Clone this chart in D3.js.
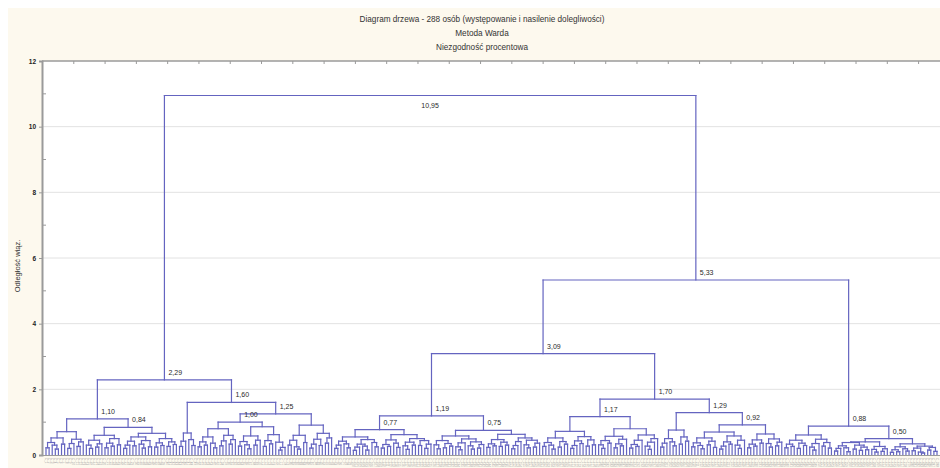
<!DOCTYPE html>
<html>
<head>
<meta charset="utf-8">
<script src="https://cdn.jsdelivr.net/npm/d3@7"></script>
<style>
  html, body { margin: 0; padding: 0; background: #ffffff; }
  svg { display: block; font-family: "Liberation Sans", Arial, sans-serif; }
</style>
</head>
<body>
<svg id="chart" width="940" height="468"></svg>
<script>
// ---- chart text ----
const titleLines = [
  "Diagram drzewa - 288 osób (występowanie i nasilenie dolegliwości)",
  "Metoda Warda",
  "Niezgodność procentowa"
];
const yAxisTitle = "Odległość wiąz.";
const yTickValues = [0, 2, 4, 6, 8, 10, 12];
const yMinorTicks = [1, 3, 5, 7, 9, 11];
const leafCount = 288;

// ---- labelled merge heights (linkage distance of the main clusters) ----
const mergeHeights = [10.95, 5.33, 3.09, 2.29, 1.70, 1.60, 1.29, 1.25, 1.19, 1.17, 1.10, 1.00, 0.92, 0.88, 0.84, 0.77, 0.75, 0.50];

// ---- low-level subclusters: [height, left, right], 0 = single case ----
const grpA1 = [0.52,[0.38,[0.22,0,0],[0.30,0,[0.18,0,0]]],[0.33,0,0]];
const grpA2 = [0.48,[0.35,[0.20,0,0],0],[0.40,[0.26,0,0],0]];
const grpB1 = [0.60,[0.45,[0.30,0,[0.20,0,0]],[0.34,[0.24,0,0],0]],[0.50,[0.36,[0.22,0,0],[0.27,0,0]],[0.31,0,0]]];
const grpB2 = [0.66,[0.55,[0.42,[0.30,[0.20,0,0],0],[0.28,0,0]],[0.44,[0.33,0,[0.21,0,0]],[0.25,0,0]]],[0.50,[0.37,[0.24,0,0],[0.29,0,0]],[0.40,[0.26,0,0],[0.32,0,0]]]];
const grpC1 = [0.67,[0.42,[0.26,0,0],0],[0.47,0,[0.29,0,0]]];
const grpC2 = [0.80,[0.55,[0.40,[0.25,0,0],[0.30,0,0]],[0.36,0,[0.22,0,0]]],[0.60,[0.43,[0.28,0,0],0],[0.47,[0.33,0,0],0]]];
const grpD1 = [0.86,[0.58,[0.41,[0.27,0,0],[0.31,0,[0.19,0,0]]],[0.45,[0.30,0,0],0]],[0.62,[0.44,[0.26,0,0],[0.34,0,0]],[0.39,0,[0.23,[0.15,0,0],0]]]];
const grpD2 = [0.91,[0.60,[0.45,[0.30,0,0],[0.25,0,[0.18,0,0]]],[0.38,0,0]],[0.66,[0.48,[0.33,[0.21,0,0],0],[0.29,0,0]],[0.52,[0.36,0,0],0]]];
const grpE1 = [0.55,[0.42,[0.30,[0.20,0,0],0],[0.34,0,[0.22,0,0]]],[0.47,[0.33,[0.24,[0.14,0,0],0],[0.27,0,[0.15,0,0]]],[0.38,0,[0.25,0,0]]]];
const grpE2 = [0.62,[0.46,[0.32,[0.21,0,0],[0.26,0,0]],[0.36,0,[0.23,0,0]]],[0.50,[0.39,[0.28,0,[0.17,0,0]],[0.30,0,0]],[0.44,[0.29,0,0],[0.33,[0.20,0,0],0]]]];
const grpF1 = [0.58,[0.44,[0.31,0,[0.19,0,0]],[0.35,[0.22,0,0],[0.27,0,0]]],[0.49,[0.37,[0.25,0,[0.16,0,0]],0],[0.40,[0.28,0,[0.18,0,0]],[0.32,[0.21,0,0],0]]]];
const grpF2 = [0.63,[0.47,[0.34,[0.23,0,0],[0.28,0,0]],[0.39,[0.26,0,0],[0.30,0,0]]],[0.52,[0.41,[0.29,[0.19,0,0],0],0],[0.45,[0.31,0,[0.22,0,0]],[0.36,[0.24,0,0],0]]]];
const grpG1 = [0.72,[0.52,[0.38,[0.26,0,0],[0.30,0,[0.18,0,0]]],[0.41,[0.24,0,0],[0.33,0,0]]],[0.56,[0.43,[0.29,[0.20,0,0],0],[0.35,0,0]],[0.46,[0.27,0,0],[0.31,0,0]]]];
const grpG2 = [0.80,[0.57,[0.44,[0.31,0,[0.20,0,0]],[0.36,0,0]],[0.48,[0.34,[0.22,0,0],[0.28,0,0]],0]],[0.61,[0.45,[0.32,[0.21,0,0],[0.26,0,0]],0],[0.50,[0.39,[0.27,0,[0.17,0,0]],0],0]]];
const grpH  = [0.76,[0.50,[0.36,[0.24,0,0],0],[0.40,0,[0.28,0,0]]],[0.55,[0.33,0,0],[0.42,0,0]]];
const grpI1 = [0.70,[0.52,[0.37,[0.25,0,0],[0.29,0,[0.19,0,0]]],[0.42,[0.31,0,0],[0.23,0,0]]],[0.58,[0.40,[0.27,[0.18,0,0],0],[0.33,0,0]],[0.45,[0.30,0,[0.20,0,0]],0]]];
const grpI2 = [0.64,[0.46,[0.33,[0.22,0,0],[0.27,0,0]],[0.36,0,0]],[0.49,[0.35,0,[0.24,0,0]],[0.39,[0.28,0,0],0]]];
const grpJ  = [0.61,[0.45,[0.33,[0.22,0,0],[0.26,0,0]],[0.36,[0.20,0,0],[0.29,0,0]]],[0.48,[0.35,[0.24,0,[0.15,0,0]],0],[0.38,[0.27,0,0],[0.21,0,0]]]];
const grpK1 = [0.40,[0.38,[0.28,[0.20,[0.12,0,0],0],[0.22,0,[0.10,0,0]]],[0.30,[0.18,0,0],[0.24,[0.14,0,0],[0.16,0,0]]]],[0.26,[0.17,0,[0.09,0,0]],[0.19,[0.11,0,0],0]]];
const grpK2 = [0.34,[0.25,[0.16,[0.08,0,0],[0.10,0,0]],[0.19,0,[0.12,0,0]]],[0.27,[0.21,[0.13,0,0],[0.09,0,[0.06,0,0]]],[0.23,[0.15,0,0],[0.11,0,0]]]];

// labelled merge: k indexes mergeHeights
const merge = (k, a, b) => ({ h: mergeHeights[k], labelled: true, kids: [a, b] });

const treeTop = merge(0,
  merge(3,
    merge(10, [0.71, grpA1, grpA2], merge(14, grpB1, grpB2)),
    merge(5, grpC1, merge(7, merge(11, grpC2, grpD1), grpD2))
  ),
  merge(1,
    merge(2,
      merge(8, merge(15, grpE1, grpE2), merge(16, grpF1, grpF2)),
      merge(4, merge(9, grpG1, grpG2), merge(6, grpH, merge(12, grpI1, grpI2)))
    ),
    merge(13, grpJ, merge(17, grpK1, grpK2))
  )
);

function build(d) {
  if (d === 0) return { h: 0 };
  if (Array.isArray(d)) return { h: d[0], children: [build(d[1]), build(d[2])] };
  return { h: d.h, labelled: true, children: d.kids.map(build) };
}

// ---- layout ----
const W = 940, H = 468;
const plot = { left: 42, top: 61, right: 940, bottom: 455 };

const svg = d3.select("#chart");

// page background
svg.append("rect").attr("x", 0).attr("y", 0).attr("width", W).attr("height", H).attr("fill", "#ffffff");
svg.append("rect").attr("x", 8).attr("y", 8).attr("width", W - 8).attr("height", H - 8).attr("fill", "#fdf9ee");
// plot area
svg.append("rect")
  .attr("x", plot.left).attr("y", plot.top)
  .attr("width", plot.right - plot.left).attr("height", plot.bottom - plot.top)
  .attr("fill", "#ffffff");

const y = d3.scaleLinear().domain([0, 12]).range([plot.bottom, plot.top]);
const x = d3.scalePoint().domain(d3.range(leafCount)).range([46, 937]);
const xTickScale = d3.scaleLinear().domain([0, leafCount - 1]).range([plot.left, plot.right]);

// gridlines
svg.append("g").selectAll("line")
  .data(yTickValues.filter(v => v > 0 && v < 12))
  .join("line")
  .attr("x1", plot.left).attr("x2", plot.right)
  .attr("y1", d => y(d)).attr("y2", d => y(d))
  .attr("stroke", "#e2e2e2").attr("stroke-width", 1);

// hierarchy
const root = d3.hierarchy(build(treeTop));
root.leaves().forEach((leaf, i) => { leaf.xPos = x(i); });
root.eachAfter(n => {
  if (n.children) n.xPos = d3.mean(n.children, c => c.xPos);
});

const linkColor = "#6464c0";
const gTree = svg.append("g")
  .attr("fill", "none").attr("stroke", linkColor).attr("stroke-width", 1.2)
  .attr("stroke-linecap", "square");

// horizontal joins
gTree.selectAll("path.h")
  .data(root.descendants().filter(n => n.children))
  .join("path").attr("class", "h")
  .attr("d", n => `M${n.children[0].xPos},${y(n.data.h)}H${n.children[1].xPos}`);

// vertical links
gTree.selectAll("path.v")
  .data(root.descendants().filter(n => n.parent))
  .join("path").attr("class", "v")
  .attr("d", n => `M${n.xPos},${y(n.data.h)}V${y(n.parent.data.h)}`);

// merge-height labels
const fmt = v => d3.format(".2f")(v).replace(".", ",");
svg.append("g")
  .attr("font-size", 7).attr("fill", "#2a2a2a")
  .selectAll("text")
  .data(root.descendants().filter(n => n.data.labelled))
  .join("text")
  .attr("x", n => n.parent ? n.xPos + 4 : n.xPos)
  .attr("y", n => n.parent ? y(n.data.h) - 5 : y(n.data.h) + 13)
  .attr("text-anchor", n => n.parent ? "start" : "middle")
  .text(n => fmt(n.data.h));

// frame / axes
const axisColor = "#9a9a9a";
svg.append("line").attr("x1", plot.left).attr("x2", plot.right)
  .attr("y1", plot.top).attr("y2", plot.top).attr("stroke", axisColor).attr("stroke-width", 1.5);
svg.append("line").attr("x1", plot.left).attr("x2", plot.right)
  .attr("y1", plot.bottom + 0.5).attr("y2", plot.bottom + 0.5).attr("stroke", axisColor).attr("stroke-width", 1);

// top axis ticks
const topAxis = d3.axisTop(xTickScale).tickValues(d3.range(10, leafCount, 10)).tickSize(-3).tickFormat("");
const gTop = svg.append("g").attr("transform", `translate(0,${plot.top})`).call(topAxis);
gTop.select(".domain").remove();
gTop.selectAll("line").attr("stroke", axisColor);

// left axis
const leftAxis = d3.axisLeft(y).tickValues(yTickValues).tickSize(3).tickPadding(3).tickFormat(d3.format("d"));
const gLeft = svg.append("g").attr("transform", `translate(${plot.left},0)`).call(leftAxis);
gLeft.select(".domain").attr("stroke", axisColor).attr("stroke-width", 2);
gLeft.selectAll(".tick line").attr("stroke", axisColor);
gLeft.selectAll(".tick text").attr("font-size", 6.5).attr("font-weight", "bold").attr("fill", "#222")
  .attr("font-family", "'Liberation Sans', Arial, sans-serif");
svg.append("g").selectAll("line")
  .data(yMinorTicks).join("line")
  .attr("x1", plot.left + 1).attr("x2", plot.left + 4)
  .attr("y1", d => y(d)).attr("y2", d => y(d))
  .attr("stroke", axisColor);

// case labels below the axis
svg.append("g")
  .attr("font-size", 3).attr("fill", "#a8a8a8")
  .selectAll("text")
  .data(root.leaves())
  .join("text")
  .attr("transform", n => `translate(${n.xPos - 1.5},458) rotate(90)`)
  .text((n, i) => "C_" + (i + 1));

// y axis title
svg.append("text")
  .attr("transform", `translate(20,266) rotate(-90)`)
  .attr("text-anchor", "middle")
  .attr("font-size", 7.5).attr("fill", "#333")
  .text(yAxisTitle);

// title
svg.append("g")
  .attr("font-size", 8.2).attr("fill", "#333").attr("text-anchor", "middle")
  .selectAll("text")
  .data(titleLines)
  .join("text")
  .attr("x", 482)
  .attr("y", (d, i) => 22 + i * 14)
  .text(d => d);
</script>
</body>
</html>
